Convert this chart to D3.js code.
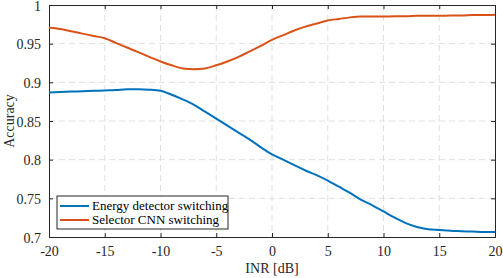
<!DOCTYPE html>
<html>
<head>
<meta charset="utf-8">
<script src="https://cdn.jsdelivr.net/npm/d3@7"></script>
<style>
  body { margin: 0; background: #fff; }
</style>
</head>
<body>
<div id="chart"></div>
<script>
// INR values in dB
var inr = [-20, -19, -18, -17, -16, -15, -14, -13, -12, -11, -10, -9, -8, -7, -6, -5, -4, -3, -2, -1,
           0, 1, 2, 3, 4, 5, 6, 7, 8, 9, 10, 11, 12, 13, 14, 15, 16, 17, 18, 19, 20];

var energySwitching = [0.887, 0.8875, 0.888, 0.8885, 0.889, 0.8895, 0.890, 0.891, 0.891, 0.8905, 0.889,
                       0.884, 0.878, 0.871, 0.862, 0.853, 0.844, 0.835, 0.826, 0.816,
                       0.807, 0.800, 0.793, 0.786, 0.780, 0.773, 0.765, 0.757, 0.748, 0.741,
                       0.733, 0.725, 0.718, 0.713, 0.710, 0.709, 0.708, 0.7075, 0.707, 0.7065, 0.7065];

var selectorSwitching = [0.971, 0.969, 0.966, 0.963, 0.960, 0.957, 0.951, 0.945, 0.939, 0.933, 0.927,
                         0.922, 0.918, 0.917, 0.918, 0.922, 0.927, 0.933, 0.940, 0.947,
                         0.955, 0.961, 0.967, 0.972, 0.976, 0.980, 0.982, 0.984, 0.985, 0.985,
                         0.985, 0.9855, 0.9855, 0.986, 0.986, 0.986, 0.9865, 0.9865, 0.987, 0.987, 0.9875];

var seriesNames = ['Energy detector switching', 'Selector CNN switching'];
var seriesColors = ['#0072BD', '#D95319'];

var xTicks = [-20, -15, -10, -5, 0, 5, 10, 15, 20];
var yTicks = [0.7, 0.75, 0.8, 0.85, 0.9, 0.95, 1];

var FONT = 'Liberation Serif';

var W = 503, H = 278;
var margin = {top: 5, right: 8, bottom: 41, left: 49};
var width = W - margin.left - margin.right,
    height = H - margin.top - margin.bottom;

var svg = d3.select('#chart').append('svg')
    .attr('width', W)
    .attr('height', H);

var g = svg.append('g')
    .attr('transform', 'translate(' + margin.left + ',' + margin.top + ')');

var x = d3.scaleLinear().domain([-20, 20]).range([0, width]);
var y = d3.scaleLinear().domain([0.7, 1]).range([height, 0]);

// grid
g.append('g').selectAll('line')
    .data(xTicks.slice(1, -1))
    .enter().append('line')
    .attr('x1', function(d) { return x(d); })
    .attr('x2', function(d) { return x(d); })
    .attr('y1', 0).attr('y2', height)
    .attr('stroke', '#dfdfdf').attr('stroke-width', 1)
    .attr('stroke-dasharray', '6,4');

g.append('g').selectAll('line')
    .data(yTicks.slice(1, -1))
    .enter().append('line')
    .attr('y1', function(d) { return y(d); })
    .attr('y2', function(d) { return y(d); })
    .attr('x1', 0).attr('x2', width)
    .attr('stroke', '#dfdfdf').attr('stroke-width', 1)
    .attr('stroke-dasharray', '6,4');

// axes, ticks pointing inward like MATLAB; plain hyphen for negatives
var xAxis = g.append('g')
    .attr('transform', 'translate(0,' + height + ')')
    .call(d3.axisBottom(x).tickValues(xTicks).tickSize(-4).tickPadding(9).tickFormat(String));
var xAxisTop = g.append('g')
    .call(d3.axisTop(x).tickValues(xTicks).tickSize(-4).tickFormat(''));
var yAxis = g.append('g')
    .call(d3.axisLeft(y).tickValues(yTicks).tickSize(-4).tickPadding(8).tickFormat(String));
var yAxisRight = g.append('g')
    .attr('transform', 'translate(' + width + ',0)')
    .call(d3.axisRight(y).tickValues(yTicks).tickSize(-4).tickFormat(''));

[xAxis, xAxisTop, yAxis, yAxisRight].forEach(function(a) {
    a.attr('font-family', null).attr('font-size', null);
    a.select('.domain').attr('stroke', '#262626').attr('stroke-width', 1);
    a.selectAll('.tick line').attr('stroke', '#262626');
    a.selectAll('text')
        .attr('fill', '#262626')
        .style('font-family', FONT)
        .style('font-size', '14px');
});
yAxis.selectAll('text').attr('dy', '0.36em');

// lines
var line = d3.line()
    .x(function(d) { return x(d[0]); })
    .y(function(d) { return y(d[1]); })
    .curve(d3.curveMonotoneX);

[energySwitching, selectorSwitching].forEach(function(vals, i) {
    g.append('path')
        .datum(inr.map(function(v, k) { return [v, vals[k]]; }))
        .attr('fill', 'none')
        .attr('stroke', seriesColors[i])
        .attr('stroke-width', 2)
        .attr('d', line);
});

// axis labels
svg.append('text')
    .attr('x', margin.left + width / 2)
    .attr('y', 273)
    .attr('text-anchor', 'middle')
    .attr('fill', '#262626')
    .style('font-family', FONT)
    .style('font-size', '14px')
    .text('INR [dB]');

svg.append('text')
    .attr('transform', 'translate(14,' + (margin.top + height / 2) + ') rotate(-90)')
    .attr('text-anchor', 'middle')
    .attr('fill', '#262626')
    .style('font-family', FONT)
    .style('font-size', '14px')
    .text('Accuracy');

// legend
var legend = svg.append('g').attr('transform', 'translate(57,196)');
legend.append('rect')
    .attr('width', 171).attr('height', 33)
    .attr('fill', '#fff')
    .attr('stroke', '#262626').attr('stroke-width', 1);

seriesNames.forEach(function(name, i) {
    var row = legend.append('g').attr('transform', 'translate(0,' + (10 + i * 14) + ')');
    row.append('line')
        .attr('x1', 3).attr('x2', 32)
        .attr('stroke', seriesColors[i]).attr('stroke-width', 2);
    row.append('text')
        .attr('x', 35).attr('y', 4)
        .attr('fill', '#000')
        .style('font-family', FONT)
        .style('font-size', '13px')
        .text(name);
});
</script>
</body>
</html>
